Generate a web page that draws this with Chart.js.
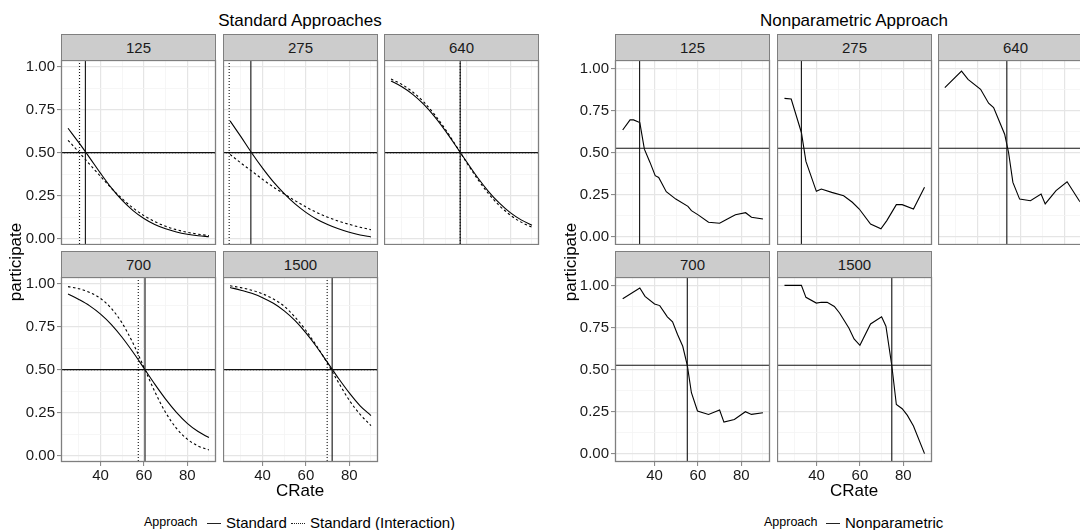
<!DOCTYPE html>
<html><head><meta charset="utf-8">
<script src="https://cdn.jsdelivr.net/npm/chart.js"></script>
<style>
html,body{margin:0;padding:0;background:#fff;}
body{width:1080px;height:530px;position:relative;overflow:hidden;font-family:"Liberation Sans",Arial,Helvetica,sans-serif;color:#000;}
.strip{position:absolute;background:#cccccc;border:1px solid #7f7f7f;box-sizing:border-box;text-align:center;font-size:15px;line-height:25px;color:#1a1a1a;}
.txt{position:absolute;white-space:nowrap;}
.ttl{font-size:17px;line-height:20px;text-align:center;}
.ytl{font-size:17px;line-height:20px;text-align:center;width:200px;height:20px;transform:rotate(-90deg);}
.key{position:absolute;height:0;border-top:1.2px solid #222;}
</style></head><body>
<script>
// ---------------- data ----------------
const facets = ['125', '275', '640', '700', '1500'];
const xTicks = [30, 40, 50, 60, 70, 80, 90];
const xMajor = [40, 60, 80];
const yTicks = [0, 0.125, 0.25, 0.375, 0.5, 0.625, 0.75, 0.875, 1];

// Standard approaches (CRate grid)
const crate = [25, 30, 35, 40, 45, 50, 55, 60, 65, 70, 75, 80, 85, 90];
const std125     = [0.642,0.558,0.470,0.380,0.295,0.222,0.163,0.117,0.082,0.057,0.039,0.026,0.017,0.011];
const stdInt125  = [0.572,0.503,0.432,0.362,0.293,0.232,0.178,0.134,0.099,0.072,0.052,0.037,0.026,0.018];
const std275     = [0.685,0.593,0.498,0.410,0.330,0.262,0.202,0.153,0.113,0.082,0.057,0.037,0.021,0.010];
const stdInt275  = [0.490,0.440,0.393,0.345,0.300,0.260,0.221,0.184,0.152,0.125,0.102,0.083,0.066,0.052];
const std640     = [0.917,0.883,0.839,0.782,0.711,0.628,0.537,0.444,0.354,0.274,0.206,0.151,0.109,0.078];
const stdInt640  = [0.928,0.897,0.853,0.796,0.723,0.637,0.540,0.440,0.345,0.261,0.192,0.137,0.096,0.067];
const std700     = [0.940,0.908,0.871,0.823,0.762,0.687,0.601,0.509,0.416,0.329,0.252,0.188,0.140,0.105];
const stdInt700  = [0.983,0.971,0.949,0.914,0.856,0.770,0.653,0.514,0.373,0.251,0.159,0.096,0.056,0.033];
const std1500    = [0.978,0.962,0.944,0.919,0.886,0.842,0.785,0.714,0.632,0.541,0.450,0.365,0.290,0.233];
const stdInt1500 = [0.988,0.977,0.962,0.941,0.911,0.869,0.805,0.728,0.637,0.535,0.426,0.322,0.240,0.175];
const stdH = 0.5;
const stdV    = [33.0, 34.6, 56.9, 60.5, 72.1];
const stdIntV = [30.3, 24.6, 56.9, 57.4, 69.8];

// Nonparametric approach
const np125x = [25.3,28.7,30.3,33.2,35.3,37.9,40.3,41.9,45.4,49.8,55.4,57.0,60.1,64.9,70.0,73.6,77.3,82.0,84.7,90.0];
const np125y = [0.634,0.694,0.694,0.678,0.520,0.441,0.362,0.352,0.267,0.223,0.180,0.154,0.129,0.085,0.079,0.105,0.130,0.142,0.115,0.105];
const np275x = [25.2,28.3,33.0,35.1,39.9,42.2,47.0,52.5,56.5,59.7,64.9,69.7,72.4,76.8,79.5,84.7,89.8];
const np275y = [0.822,0.818,0.619,0.447,0.269,0.283,0.263,0.243,0.204,0.164,0.075,0.046,0.095,0.190,0.190,0.164,0.293];
const np640x = [24.9,32.6,35.6,41.4,45.1,47.4,52.5,54.3,56.3,59.4,64.4,69.3,71.2,76.2,81.3,86.9,90.0];
const np640y = [0.886,0.984,0.935,0.876,0.793,0.767,0.609,0.500,0.322,0.223,0.213,0.253,0.194,0.273,0.326,0.213,0.170];
const np700x = [25.3,33.2,35.6,40.0,42.4,45.9,48.3,50.6,53.0,55.1,57.0,59.8,64.9,70.0,72.0,76.8,81.9,84.7,90.0];
const np700y = [0.921,0.985,0.935,0.890,0.880,0.813,0.783,0.708,0.638,0.524,0.362,0.253,0.233,0.259,0.187,0.203,0.249,0.233,0.243];
const np1500x = [25.2,33.0,35.1,39.9,42.2,44.9,48.2,50.6,54.9,57.3,60.0,64.9,70.0,72.0,74.7,76.8,79.5,81.9,84.7,89.8];
const np1500y = [1.0,1.0,0.929,0.895,0.900,0.899,0.875,0.836,0.747,0.682,0.644,0.771,0.813,0.757,0.524,0.292,0.267,0.227,0.164,0.0];
const npH = 0.525;
const npV = [33.1, 33.0, 53.5, 55.1, 74.7];

// ---------------- layout ----------------
const FONT = '"Liberation Sans", Arial, Helvetica, sans-serif';
const PW = 155, PH = 185;
const ROWS = [60, 277];
const FIGS = [
  {lefts: [61, 223, 384], yMin: -0.037, yMax: 1.039},
  {lefts: [615, 777, 938], yMin: -0.05, yMax: 1.05}
];
const isMajX = v => xMajor.indexOf(v) >= 0;
const isMajY = v => Math.abs(v * 4 - Math.round(v * 4)) < 1e-9;

const refPlugin = {
  id: 'refLines',
  afterDatasetsDraw(chart, args, opts) {
    const {ctx, chartArea: a, scales: {x, y}} = chart;
    ctx.save();
    ctx.beginPath(); ctx.rect(a.left, a.top, a.right - a.left, a.bottom - a.top); ctx.clip();
    (opts.lines || []).forEach(l => {
      ctx.beginPath();
      ctx.setLineDash(l.dash || []);
      ctx.lineWidth = l.w || 1.1;
      ctx.strokeStyle = l.c || '#111';
      if (l.x !== undefined) {
        const px = x.getPixelForValue(l.x);
        ctx.moveTo(px, a.top); ctx.lineTo(px, a.bottom);
      } else {
        const py = y.getPixelForValue(l.y);
        ctx.moveTo(a.left, py); ctx.lineTo(a.right, py);
      }
      ctx.stroke();
    });
    ctx.restore();
  },
  afterDraw(chart) {
    const {ctx, chartArea: a} = chart;
    ctx.save();
    ctx.strokeStyle = '#7f7f7f'; ctx.lineWidth = 1.3; ctx.setLineDash([]);
    ctx.strokeRect(a.left + 0.5, a.top + 0.5, a.right - a.left - 1, a.bottom - a.top - 1);
    ctx.restore();
  }
};

function addText(cls, text, css) {
  const d = document.createElement('div');
  d.className = cls; d.textContent = text;
  Object.assign(d.style, css);
  document.body.appendChild(d);
  return d;
}

function panel(figIdx, i, datasets, lines) {
  const fig = FIGS[figIdx];
  const r = Math.floor(i / 3), c = i % 3;
  const L = c === 0 ? 60 : 0, B = r === 1 ? 40 : 0, T = 12, R = 4;
  const plotL = fig.lefts[c], plotT = ROWS[r];
  const W = L + PW + R, H = T + PH + B;
  const cv = document.createElement('canvas');
  cv.width = W; cv.height = H;
  Object.assign(cv.style, {position: 'absolute', left: (plotL - L) + 'px', top: (plotT - T) + 'px', width: W + 'px', height: H + 'px'});
  document.body.appendChild(cv);
  addText('strip', facets[i], {left: plotL + 'px', top: (plotT - 26) + 'px', width: PW + 'px', height: '27px'});

  new Chart(cv, {
    type: 'line',
    data: {datasets},
    options: {
      responsive: false, animation: false, events: [],
      layout: {padding: {top: T, right: R, left: 0, bottom: 0}},
      plugins: {legend: {display: false}, tooltip: {enabled: false}, refLines: {lines}},
      elements: {point: {radius: 0}},
      scales: {
        x: {
          type: 'linear', min: 21.75, max: 93.25,
          afterBuildTicks: s => { s.ticks = xTicks.map(v => ({value: v})); },
          afterFit: s => { s.height = B; s.paddingLeft = 0; s.paddingRight = 0; s.paddingTop = 0; s.paddingBottom = 0; },
          ticks: {display: B > 0, autoSkip: false, maxRotation: 0, padding: 1, color: '#1a1a1a',
                  font: {family: FONT, size: 15}, callback: v => isMajX(v) ? String(v) : ''},
          grid: {color: ctx => (ctx.tick && isMajX(ctx.tick.value)) ? '#e5e5e5' : '#f4f4f4',
                 lineWidth: ctx => (ctx.tick && isMajX(ctx.tick.value)) ? 1.2 : 0.8,
                 drawTicks: B > 0, tickLength: 4, tickWidth: 1,
                 tickColor: ctx => (ctx.tick && isMajX(ctx.tick.value)) ? '#7f7f7f' : 'rgba(0,0,0,0)'},
          border: {display: false}
        },
        y: {
          type: 'linear', min: fig.yMin, max: fig.yMax,
          afterBuildTicks: s => { s.ticks = yTicks.map(v => ({value: v})); },
          afterFit: s => { s.width = L; s.paddingLeft = 0; s.paddingRight = 0; s.paddingTop = 0; s.paddingBottom = 0; },
          ticks: {display: L > 0, autoSkip: false, padding: 2, color: '#1a1a1a',
                  font: {family: FONT, size: 15}, callback: v => isMajY(v) ? v.toFixed(2) : ''},
          grid: {color: ctx => (ctx.tick && isMajY(ctx.tick.value)) ? '#e5e5e5' : '#f4f4f4',
                 lineWidth: ctx => (ctx.tick && isMajY(ctx.tick.value)) ? 1.2 : 0.8,
                 drawTicks: L > 0, tickLength: 4, tickWidth: 1,
                 tickColor: ctx => (ctx.tick && isMajY(ctx.tick.value)) ? '#7f7f7f' : 'rgba(0,0,0,0)'},
          border: {display: false}
        }
      }
    },
    plugins: [refPlugin]
  });
}

const stdCurves = [std125, std275, std640, std700, std1500];
const stdIntCurves = [stdInt125, stdInt275, stdInt640, stdInt700, stdInt1500];
const npX = [np125x, np275x, np640x, np700x, np1500x];
const npY = [np125y, np275y, np640y, np700y, np1500y];

for (let i = 0; i < facets.length; i++) {
  panel(0, i, [
    {label: 'Standard', data: crate.map((x, k) => ({x, y: stdCurves[i][k]})),
     borderColor: '#000', borderWidth: 1.1, fill: false, cubicInterpolationMode: 'monotone'},
    {label: 'Standard (Interaction)', data: crate.map((x, k) => ({x, y: stdIntCurves[i][k]})),
     borderColor: '#000', borderWidth: 1.1, borderDash: [2.5, 2.5], fill: false, cubicInterpolationMode: 'monotone'}
  ], [
    {y: stdH}, {y: stdH, dash: [1, 2]},
    {x: stdV[i]}, {x: stdIntV[i], dash: [1, 2]}
  ]);
  panel(1, i, [
    {label: 'Nonparametric', data: npX[i].map((x, k) => ({x, y: npY[i][k]})),
     borderColor: '#000', borderWidth: 1.1, fill: false, tension: 0}
  ], [
    {y: npH}, {x: npV[i]}
  ]);
}

// titles
addText('txt ttl', 'Standard Approaches', {left: '100px', width: '400px', top: '11px'});
addText('txt ttl', 'Nonparametric Approach', {left: '654px', width: '400px', top: '11px'});
addText('txt ttl', 'CRate', {left: '200px', width: '200px', top: '481px'});
addText('txt ttl', 'CRate', {left: '754px', width: '200px', top: '481px'});
addText('txt ytl', 'participate', {left: (16 - 100) + 'px', top: (262 - 10) + 'px'});
addText('txt ytl', 'participate', {left: (571 - 100) + 'px', top: (262 - 10) + 'px'});

// legends
addText('txt', 'Approach', {left: '144px', top: '515px', fontSize: '12.5px', lineHeight: '15px'});
const k1 = document.createElement('div'); k1.className = 'key';
Object.assign(k1.style, {left: '207px', top: '522.5px', width: '14px'}); document.body.appendChild(k1);
addText('txt', 'Standard', {left: '226px', top: '514px', fontSize: '15px', lineHeight: '17px'});
const k2 = document.createElement('div'); k2.className = 'key';
Object.assign(k2.style, {left: '291px', top: '522.5px', width: '14px', borderTopStyle: 'dotted'}); document.body.appendChild(k2);
addText('txt', 'Standard (Interaction)', {left: '310px', top: '514px', fontSize: '15px', lineHeight: '17px'});

addText('txt', 'Approach', {left: '764px', top: '515px', fontSize: '12.5px', lineHeight: '15px'});
const k3 = document.createElement('div'); k3.className = 'key';
Object.assign(k3.style, {left: '826px', top: '522.5px', width: '14px'}); document.body.appendChild(k3);
addText('txt', 'Nonparametric', {left: '845px', top: '514px', fontSize: '15px', lineHeight: '17px'});
</script>
</body></html>
